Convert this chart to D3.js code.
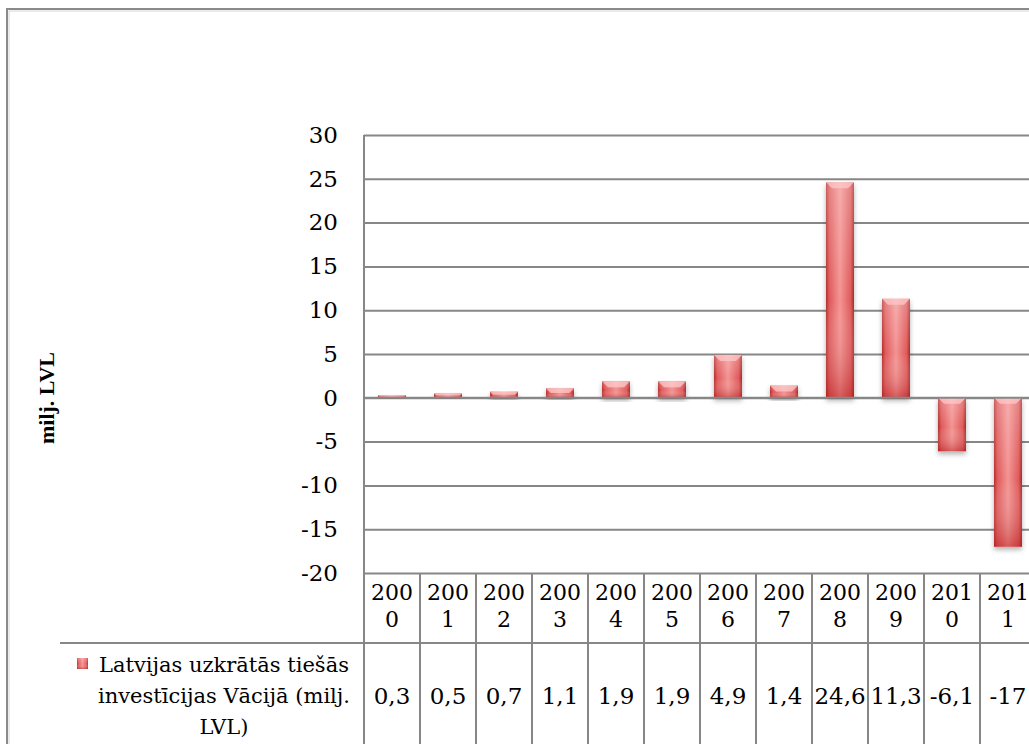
<!DOCTYPE html>
<html>
<head>
<meta charset="utf-8">
<script src="https://cdn.jsdelivr.net/npm/d3@7"></script>
<style>
  body { margin: 0; background: #fff; }
  svg { display: block; }
</style>
</head>
<body>
<script>
const years = ['2000', '2001', '2002', '2003', '2004', '2005', '2006', '2007', '2008', '2009', '2010', '2011'];
const values = [0.3, 0.5, 0.7, 1.1, 1.9, 1.9, 4.9, 1.4, 24.6, 11.3, -6.1, -17];
const valueLabels = ['0,3', '0,5', '0,7', '1,1', '1,9', '1,9', '4,9', '1,4', '24,6', '11,3', '-6,1', '-17'];
const yTicks = [30, 25, 20, 15, 10, 5, 0, -5, -10, -15, -20];
const seriesName = ['Latvijas uzkrātās tiešās', 'investīcijas Vācijā (milj.', 'LVL)'];
const axisTitle = 'milj. LVL';

const svgWidth = 1029;
const svgHeight = 744;
const plotLeft = 364;
const plotTop = 135;
const plotBottom = 573;
const colWidth = 56;
const gridColor = '#878787';
const font = '"DejaVu Serif", serif';

const svg = d3.select('body')
  .append('svg')
  .attr('width', svgWidth)
  .attr('height', svgHeight);

// gradients + shadow
const defs = svg.append('defs');
const hGrad = defs.append('linearGradient').attr('id', 'barH');
hGrad.append('stop').attr('offset', '0%').attr('stop-color', '#b52c2c');
hGrad.append('stop').attr('offset', '12%').attr('stop-color', '#df5a5a');
hGrad.append('stop').attr('offset', '50%').attr('stop-color', '#f49393');
hGrad.append('stop').attr('offset', '88%').attr('stop-color', '#df5a5a');
hGrad.append('stop').attr('offset', '100%').attr('stop-color', '#a92828');

const vGrad = defs.append('linearGradient').attr('id', 'barV')
  .attr('x1', 0).attr('y1', 0).attr('x2', 0).attr('y2', 1);
vGrad.append('stop').attr('offset', '0%').attr('stop-color', '#fff').attr('stop-opacity', 0.25);
vGrad.append('stop').attr('offset', '55%').attr('stop-color', '#fff').attr('stop-opacity', 0);
vGrad.append('stop').attr('offset', '100%').attr('stop-color', '#b01515').attr('stop-opacity', 0.45);

const shadow = defs.append('filter').attr('id', 'shadow')
  .attr('x', '-30%').attr('y', '-10%').attr('width', '160%').attr('height', '130%');
shadow.append('feDropShadow')
  .attr('dx', 0).attr('dy', 3).attr('stdDeviation', 2.5)
  .attr('flood-color', '#000').attr('flood-opacity', 0.3);

// outer frame
svg.append('path')
  .attr('d', 'M7,' + svgHeight + ' V9 H' + svgWidth)
  .attr('fill', 'none')
  .attr('stroke', '#8a8a8a')
  .attr('stroke-width', 2);
svg.append('path')
  .attr('d', 'M9,' + svgHeight + ' V11 H' + svgWidth)
  .attr('fill', 'none')
  .attr('stroke', '#d6d6d6')
  .attr('stroke-width', 1);

// scales
const xScale = d3.scaleBand()
  .domain(years)
  .range([plotLeft, plotLeft + colWidth * years.length])
  .paddingInner(0.5)
  .paddingOuter(0.25);

const yScale = d3.scaleLinear()
  .domain([-20, 30])
  .range([plotBottom, plotTop]);

// gridlines
svg.append('g')
  .attr('transform', 'translate(' + plotLeft + ',0)')
  .call(d3.axisRight(yScale).tickValues(yTicks).tickSize(svgWidth - plotLeft).tickFormat(''))
  .call((g) => g.select('.domain').remove())
  .call((g) => g.selectAll('line').attr('stroke', gridColor).attr('stroke-width', 2));

// y axis labels (plain hyphen for negatives, as in the source)
svg.append('g')
  .attr('transform', 'translate(' + plotLeft + ',0)')
  .call(d3.axisLeft(yScale).tickValues(yTicks).tickSize(0).tickPadding(26).tickFormat((d) => String(d)))
  .call((g) => g.select('.domain').remove())
  .call((g) => g.selectAll('text')
    .attr('font-family', font)
    .attr('font-size', 23)
    .attr('fill', '#000'));

// axis title
svg.append('text')
  .attr('transform', 'translate(54,398) rotate(-90)')
  .attr('text-anchor', 'middle')
  .attr('font-family', '"Liberation Serif", serif')
  .attr('font-weight', 'bold')
  .attr('font-size', 22)
  .text(axisTitle);

// bars
const bars = svg.selectAll('g.bar')
  .data(years.map((y, i) => ({ year: y, value: values[i] })))
  .enter()
  .append('g')
  .attr('class', 'bar');

const barTop = (d) => yScale(Math.max(0, d.value));
const barHeight = (d) => Math.abs(yScale(d.value) - yScale(0));

bars.append('rect')
  .attr('x', (d) => xScale(d.year))
  .attr('y', barTop)
  .attr('width', xScale.bandwidth())
  .attr('height', barHeight)
  .attr('fill', 'url(#barH)')
  .attr('filter', 'url(#shadow)');

bars.append('rect')
  .attr('x', (d) => xScale(d.year))
  .attr('y', barTop)
  .attr('width', xScale.bandwidth())
  .attr('height', barHeight)
  .attr('fill', 'url(#barV)');

// top bevel
bars.append('path')
  .attr('d', (d) => {
    const x0 = xScale(d.year);
    const x1 = x0 + xScale.bandwidth();
    const y0 = barTop(d);
    const b = Math.min(6, barHeight(d) / 2);
    return 'M' + x0 + ',' + y0 + ' L' + x1 + ',' + y0 + ' L' + (x1 - b) + ',' + (y0 + b) +
      ' L' + (x0 + b) + ',' + (y0 + b) + 'Z';
  })
  .attr('fill', '#ffc8c8')
  .attr('opacity', 0.75);

// zero line on top of bars
svg.append('line')
  .attr('x1', plotLeft).attr('x2', svgWidth)
  .attr('y1', yScale(0)).attr('y2', yScale(0))
  .attr('stroke', gridColor)
  .attr('stroke-width', 2);

// y axis line (continues as table edge)
svg.append('line')
  .attr('x1', plotLeft).attr('x2', plotLeft)
  .attr('y1', plotTop).attr('y2', svgHeight)
  .attr('stroke', gridColor)
  .attr('stroke-width', 2);

// data table
const rowSplit = 643;
svg.append('line')
  .attr('x1', 60).attr('x2', svgWidth)
  .attr('y1', rowSplit).attr('y2', rowSplit)
  .attr('stroke', gridColor)
  .attr('stroke-width', 2);

svg.selectAll('line.col')
  .data(years.slice(1))
  .enter()
  .append('line')
  .attr('class', 'col')
  .attr('x1', (d) => xScale(d) - xScale.step() * 0.25)
  .attr('x2', (d) => xScale(d) - xScale.step() * 0.25)
  .attr('y1', plotBottom)
  .attr('y2', svgHeight)
  .attr('stroke', gridColor)
  .attr('stroke-width', 2);

const header = svg.selectAll('text.year')
  .data(years)
  .enter()
  .append('text')
  .attr('class', 'year')
  .attr('font-family', font)
  .attr('font-size', 22)
  .attr('text-anchor', 'middle');

header.append('tspan')
  .attr('x', (d) => xScale(d) + xScale.bandwidth() / 2)
  .attr('y', 592)
  .attr('dy', '0.35em')
  .text((d) => d.slice(0, 3));
header.append('tspan')
  .attr('x', (d) => xScale(d) + xScale.bandwidth() / 2)
  .attr('y', 619)
  .attr('dy', '0.35em')
  .text((d) => d.slice(3));

svg.selectAll('text.val')
  .data(years)
  .enter()
  .append('text')
  .attr('class', 'val')
  .attr('x', (d) => xScale(d) + xScale.bandwidth() / 2)
  .attr('y', 696)
  .attr('dy', '0.35em')
  .attr('font-family', font)
  .attr('font-size', 23)
  .attr('text-anchor', 'middle')
  .text((d, i) => valueLabels[i]);

// legend key + series name
svg.append('rect')
  .attr('x', 77).attr('y', 658)
  .attr('width', 11).attr('height', 11)
  .attr('fill', 'url(#barH)');
svg.append('rect')
  .attr('x', 77).attr('y', 658)
  .attr('width', 11).attr('height', 11)
  .attr('fill', 'url(#barV)');

svg.selectAll('text.series')
  .data(seriesName)
  .enter()
  .append('text')
  .attr('class', 'series')
  .attr('x', 224)
  .attr('y', (d, i) => 665 + i * 31)
  .attr('dy', '0.35em')
  .attr('font-family', font)
  .attr('font-size', 21)
  .attr('text-anchor', 'middle')
  .text((d) => d);
</script>
</body>
</html>
